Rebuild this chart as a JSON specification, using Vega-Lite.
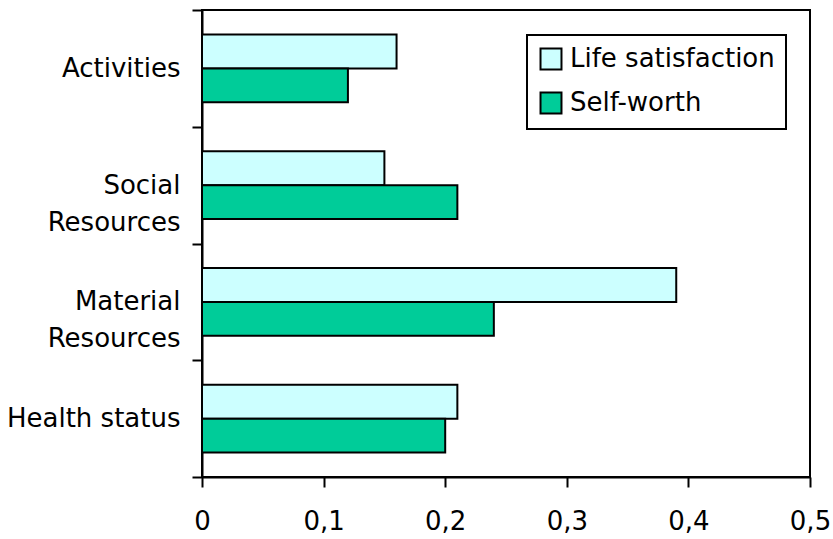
{
  "$schema": "https://vega.github.io/schema/vega-lite/v6.json",
  "autosize": "none",
  "width": 608,
  "height": 467,
  "padding": {"left": 202, "top": 10, "right": 23, "bottom": 62},
  "background": "white",
  "data": {
    "values": [
      {"category": "Activities", "series": "Life satisfaction", "value": 0.16},
      {"category": "Activities", "series": "Self-worth", "value": 0.12},
      {"category": "Social Resources", "series": "Life satisfaction", "value": 0.15},
      {"category": "Social Resources", "series": "Self-worth", "value": 0.21},
      {"category": "Material Resources", "series": "Life satisfaction", "value": 0.39},
      {"category": "Material Resources", "series": "Self-worth", "value": 0.24},
      {"category": "Health status", "series": "Life satisfaction", "value": 0.21},
      {"category": "Health status", "series": "Self-worth", "value": 0.20}
    ]
  },
  "mark": {"type": "bar", "stroke": "black", "strokeWidth": 2},
  "encoding": {
    "y": {
      "field": "category",
      "type": "nominal",
      "sort": ["Activities", "Social Resources", "Material Resources", "Health status"],
      "scale": {"paddingInner": 0, "paddingOuter": 0},
      "axis": {
        "title": null,
        "tickBand": "extent",
        "tickSize": 10,
        "tickWidth": 2,
        "tickColor": "black",
        "domainColor": "black",
        "domainWidth": 2,
        "labelPadding": 12,
        "labelFont": "DejaVu Sans",
        "labelFontSize": 26,
        "labelColor": "black",
        "labelLineHeight": 37,
        "labelLimit": 200,
        "labelExpr": "datum.value == 'Social Resources' ? ['Social\u00a0\u00a0\u00a0\u00a0', 'Resources'] : datum.value == 'Material Resources' ? ['Material\u00a0\u00a0', 'Resources'] : datum.value"
      }
    },
    "yOffset": {
      "field": "series",
      "type": "nominal",
      "sort": ["Life satisfaction", "Self-worth"],
      "scale": {"paddingInner": 0, "paddingOuter": 0.72}
    },
    "x": {
      "field": "value",
      "type": "quantitative",
      "scale": {"domain": [0, 0.5], "nice": false},
      "axis": {
        "title": null,
        "values": [0, 0.1, 0.2, 0.3, 0.4, 0.5],
        "grid": false,
        "tickSize": 10,
        "tickWidth": 2,
        "tickColor": "black",
        "domainColor": "black",
        "domainWidth": 2,
        "labelPadding": 21,
        "labelFont": "DejaVu Sans",
        "labelFontSize": 26,
        "labelColor": "black",
        "labelFlush": false,
        "labelExpr": "datum.value == 0 ? '0' : replace(format(datum.value, '.1f'), '.', ',')"
      }
    },
    "color": {
      "field": "series",
      "type": "nominal",
      "sort": ["Life satisfaction", "Self-worth"],
      "scale": {"domain": ["Life satisfaction", "Self-worth"], "range": ["#CCFFFF", "#00CC99"]},
      "legend": {
        "title": null,
        "orient": "none",
        "legendX": 325,
        "legendY": 25,
        "strokeColor": "black",
        "padding": 11,
        "symbolType": "square",
        "symbolSize": 440,
        "symbolStrokeColor": "black",
        "symbolStrokeWidth": 2,
        "labelFont": "DejaVu Sans",
        "labelFontSize": 26,
        "labelColor": "black",
        "labelOffset": 6,
        "rowPadding": 14,
        "labelLimit": 300
      }
    }
  },
  "config": {
    "view": {"stroke": "black", "strokeWidth": 2},
    "legend": {"strokeWidth": 2}
  }
}
